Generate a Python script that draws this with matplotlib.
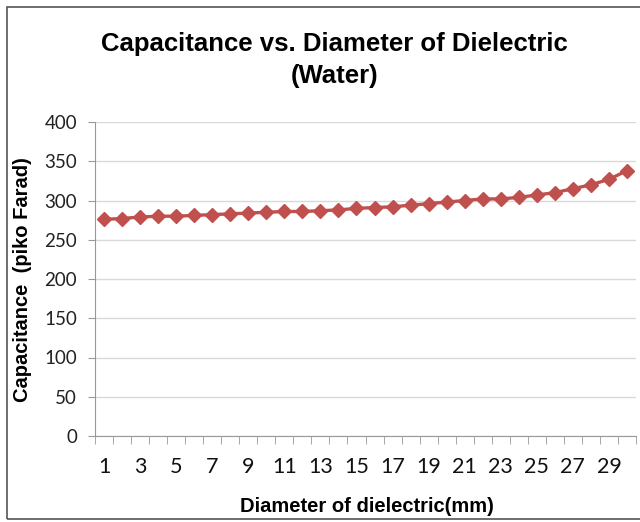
import matplotlib
matplotlib.use("Agg")
import matplotlib.pyplot as plt
from matplotlib.patches import Rectangle
import numpy as np

# diameter of dielectric (mm) and measured capacitance (pF)
diameter = list(range(1, 31))
capacitance = [276, 277, 279, 280, 280, 281, 282, 283, 284, 285,
               286, 286, 287, 288, 290, 291, 292, 294, 296, 298,
               300, 302, 302, 304, 307, 310, 315, 320, 327, 338]
y_ticks = [0, 50, 100, 150, 200, 250, 300, 350, 400]
x_labels = [str(d) for d in diameter[::2]]

fig = plt.figure(figsize=(6.4, 5.22), dpi=100)
fig.patches.append(Rectangle((7 / 640, 3 / 522), 640, 512 / 522, transform=fig.transFigure,
                             fill=False, ec="#555555", lw=1.2))

ax = fig.add_axes([95 / 640, 86 / 522, 541 / 640, 314 / 522])
ax.plot(diameter, capacitance, color="#C0504D", lw=2.4, marker="D", ms=7, mec="#C0504D")

ax.set_xlim(0.5, 30.5)
ax.set_ylim(0, 400)
ax.set_yticks(y_ticks)
ax.set_yticklabels([str(v) for v in y_ticks], fontsize=13.5, family="Lato", color="#222222")
ax.set_xticks(diameter[::2])
ax.set_xticklabels(x_labels, fontsize=15.5, family="Lato", color="#111111")
ax.set_xticks(np.arange(0.5, 31, 1), minor=True)
ax.tick_params(axis="x", which="major", length=0, pad=15)
ax.tick_params(axis="x", which="minor", length=6, color="#999999", direction="out")
ax.tick_params(axis="y", length=5, color="#999999", direction="out", pad=8)
ax.grid(axis="y", color="#D9D9D9", lw=1)
ax.set_axisbelow(True)
for s in ["top", "right"]:
    ax.spines[s].set_visible(False)
for s in ["left", "bottom"]:
    ax.spines[s].set_color("#999999")

fig.text(0.523, 0.915, "Capacitance vs. Diameter of Dielectric", ha="center", va="center",
         fontsize=18.5, fontweight="bold", family="Liberation Sans")
fig.text(0.523, 0.855, "(Water)", ha="center", va="center",
         fontsize=18.5, fontweight="bold", family="Liberation Sans")
fig.text(0.035, 0.464, "Capacitance  (piko Farad)", rotation=90, ha="center", va="center",
         fontsize=14.5, fontweight="bold", family="Liberation Sans")
fig.text(0.573, 0.03, "Diameter of dielectric(mm)", ha="center", va="center",
         fontsize=14.5, fontweight="bold", family="Liberation Sans")

fig.savefig("out.png", dpi=100)
